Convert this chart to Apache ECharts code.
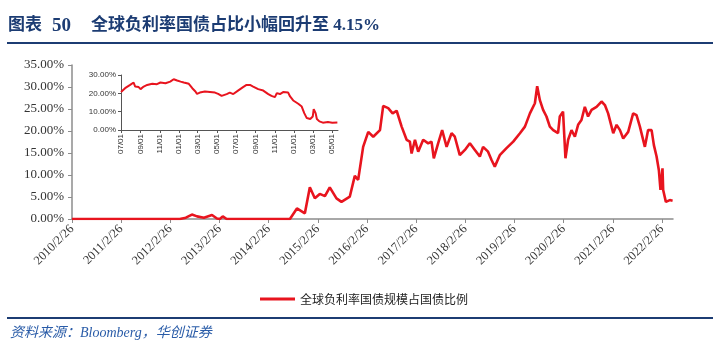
<!DOCTYPE html>
<html><head><meta charset="utf-8">
<script src="https://cdn.jsdelivr.net/npm/echarts@6/dist/echarts.min.js"></script>
<style>html,body{margin:0;padding:0;background:#fff}#c{width:720px;height:357px}</style>
</head><body><div id="c"></div>
<script>
// ---- data ----
var titleText = '全球负利率国债占比小幅回升至 4.15%';
var figLabel = '图表';
var figNo = '50';
var sourceText = '资料来源：Bloomberg，华创证券';
var seriesName = '全球负利率国债规模占国债比例';

var mainTickDates = ['2010-02-26','2011-02-26','2012-02-26','2013-02-26','2014-02-26','2015-02-26','2016-02-26','2017-02-26','2018-02-26','2019-02-26','2020-02-26','2021-02-26','2022-02-26'];
var insetTickDates = ['2020-07-01','2020-09-01','2020-11-01','2021-01-01','2021-03-01','2021-05-01','2021-07-01','2021-09-01','2021-11-01','2022-01-01','2022-03-01','2022-05-01'];

var mainDates = ['2010-02-26','2012-05-07','2012-06-21','2012-08-05','2012-09-12','2012-11-02','2013-01-01','2013-02-07','2013-02-28','2013-03-22','2013-04-20','2014-08-03','2014-09-24','2014-11-22','2014-12-29','2015-02-04','2015-03-13','2015-04-20','2015-05-26','2015-07-15','2015-08-21','2015-10-22','2015-11-28','2015-12-23','2016-01-29','2016-03-07','2016-04-13','2016-06-02','2016-06-26','2016-08-02','2016-09-04','2016-10-04','2016-11-10','2016-12-17','2017-01-10','2017-01-23','2017-02-17','2017-03-13','2017-04-19','2017-05-26','2017-06-20','2017-07-07','2017-08-08','2017-09-07','2017-10-10','2017-11-16','2017-12-10','2018-01-16','2018-02-23','2018-04-01','2018-05-08','2018-06-14','2018-07-08','2018-08-14','2018-09-09','2018-10-03','2018-11-09','2018-12-29','2019-02-17','2019-04-08','2019-05-15','2019-06-21','2019-07-28','2019-08-14','2019-09-03','2019-09-27','2019-10-22','2019-11-16','2019-12-11','2020-01-16','2020-01-29','2020-02-22','2020-03-11','2020-03-31','2020-04-25','2020-05-20','2020-06-13','2020-07-08','2020-08-02','2020-08-26','2020-09-21','2020-10-28','2020-12-04','2020-12-29','2021-01-22','2021-03-01','2021-03-26','2021-04-20','2021-05-14','2021-06-20','2021-07-27','2021-08-21','2021-09-15','2021-10-22','2021-11-15','2021-12-11','2021-12-28','2022-01-17','2022-02-03','2022-02-15','2022-03-02','2022-03-07','2022-03-27','2022-04-25','2022-05-16'];
var mainValues = [0,0,0.3,1.0,0.6,0.3,0.9,0.1,0,0.6,0,0,2.4,1.3,7.2,4.7,5.7,5.2,7.2,4.7,3.9,5.1,9.8,8.9,16.4,19.8,18.7,20.2,25.7,25.2,24.0,24.6,21.0,18.0,17.6,14.9,18.0,15.3,18.0,17.2,17.6,13.8,17.2,20.2,16.4,19.5,18.7,14.5,15.7,17.2,15.7,14.2,16.4,15.3,13.4,11.9,14.5,16.1,17.6,19.5,21.0,24.0,26.3,30.2,27.0,24.8,23.3,21.0,20.2,19.5,23.3,24.4,13.8,18.0,20.2,18.7,21.4,22.5,25.5,23.3,24.8,25.5,26.7,25.9,24.0,19.5,21.4,20.2,18.3,19.8,24.0,23.6,21.0,16.4,20.2,20.2,16.8,14.2,11.1,6.6,11.5,6.6,3.9,4.3,4.15];

var insetDates = ['2020-07-01','2020-07-14','2020-07-30','2020-08-10','2020-08-15','2020-08-26','2020-09-01','2020-09-11','2020-09-22','2020-10-08','2020-10-23','2020-11-03','2020-11-19','2020-12-04','2020-12-15','2020-12-26','2021-01-06','2021-01-16','2021-02-01','2021-02-12','2021-02-22','2021-02-27','2021-03-08','2021-03-24','2021-04-09','2021-04-25','2021-05-05','2021-05-16','2021-06-01','2021-06-11','2021-06-22','2021-07-07','2021-07-23','2021-08-03','2021-08-14','2021-08-24','2021-09-09','2021-09-25','2021-10-11','2021-10-21','2021-11-01','2021-11-07','2021-11-17','2021-11-27','2021-12-13','2021-12-19','2021-12-29','2022-01-14','2022-01-25','2022-02-02','2022-02-10','2022-02-21','2022-03-01','2022-03-04','2022-03-10','2022-03-14','2022-03-22','2022-04-02','2022-04-18','2022-05-02','2022-05-18'];
var insetValues = [20.7,22.8,24.6,25.9,23.7,23.4,22.3,23.7,24.6,25.2,25.0,25.9,25.5,26.4,27.7,27.0,26.4,25.9,25.2,22.8,21.0,19.7,20.4,21.0,20.7,20.4,19.7,18.6,19.6,20.4,19.6,21.5,23.4,24.6,24.6,23.7,22.3,21.5,19.6,18.6,17.9,20.1,19.6,20.7,20.4,18.3,16.1,14.3,12.8,9.2,6.5,6.0,7.4,11.4,9.2,6.0,4.7,4.0,4.3,4.0,4.15];

// ---- helpers ----
function ts(s){var p=s.split('-');return Date.UTC(+p[0],+p[1]-1,+p[2]);}
function pair(ds,vs){return ds.map(function(d,i){return [ts(d),vs[i]];});}
function pad(n){return (n<10?'0':'')+n;}

var navy = '#1C3C73';
var red = '#E8141E';
var axisGray = '#8C8C8C';
var titleFont = 'bold 17px "Liberation Serif","Noto Sans CJK SC"';

var chart = echarts.init(document.getElementById('c'), null, {renderer:'canvas'});
var mainTicks = mainTickDates.map(ts);
var insetTicks = insetTickDates.map(ts);

chart.setOption({
  animation:false,
  backgroundColor:'#fff',
  graphic:[
    {type:'text', x:8, y:26, style:{text:figLabel, verticalAlign:'middle', font:titleFont, fill:navy}},
    {type:'text', x:52, y:26, style:{text:figNo, verticalAlign:'middle', font:'bold 19px "Liberation Serif","Noto Sans CJK SC"', fill:navy}},
    {type:'text', x:91, y:26, style:{text:titleText, verticalAlign:'middle', font:titleFont, fill:navy}},
    {type:'rect', shape:{x:7,y:42,width:706,height:2}, style:{fill:navy}},
    {type:'rect', shape:{x:7,y:317,width:706,height:2}, style:{fill:navy}},
    {type:'text', x:10, y:333, style:{text:sourceText, verticalAlign:'middle', font:'italic 14px "Liberation Serif","Noto Sans CJK SC"', fill:'#2A5CA8'}}
  ],
  legend:{
    show:true, left:255, top:288, icon:'rect', itemWidth:35, itemHeight:3, itemGap:4,
    textStyle:{fontFamily:'Noto Sans CJK SC', fontSize:12, color:'#222'},
    data:[seriesName]
  },
  grid:[
    {left:72, right:47, top:65, bottom:138, containLabel:false},
    {left:121, right:382, top:75, bottom:227, containLabel:false}
  ],
  xAxis:[
    {type:'value', gridIndex:0, min:ts('2010-02-26'), max:ts('2022-05-19'),
     axisLine:{lineStyle:{color:axisGray, width:1.5}},
     axisTick:{show:true, length:4, customValues:mainTicks, lineStyle:{color:axisGray}},
     splitLine:{show:false},
     axisLabel:{customValues:mainTicks, rotate:45, margin:8, color:'#333', fontFamily:'Liberation Serif', fontSize:12.5,
       formatter:function(v){var d=new Date(v);return d.getUTCFullYear()+'/'+(d.getUTCMonth()+1)+'/'+d.getUTCDate();}}},
    {type:'value', gridIndex:1, min:ts('2020-07-01'), max:ts('2022-05-20'),
     axisLine:{lineStyle:{color:'#555', width:1}},
     axisTick:{show:true, length:3, customValues:insetTicks, lineStyle:{color:'#555'}},
     splitLine:{show:false},
     axisLabel:{customValues:insetTicks, rotate:90, margin:4, color:'#333', fontFamily:'Liberation Sans', fontSize:8,
       formatter:function(v){var d=new Date(v);return pad(d.getUTCMonth()+1)+'/'+pad(d.getUTCDate());}}}
  ],
  yAxis:[
    {type:'value', gridIndex:0, min:0, max:35, interval:5,
     axisLine:{show:true, lineStyle:{color:axisGray, width:1.5}},
     axisTick:{show:true, length:4, lineStyle:{color:axisGray}},
     splitLine:{show:false},
     axisLabel:{margin:8, color:'#333', fontFamily:'Liberation Serif', fontSize:13,
       formatter:function(v){return v.toFixed(2)+'%';}}},
    {type:'value', gridIndex:1, min:0, max:30, interval:10,
     axisLine:{show:true, lineStyle:{color:'#555', width:1}},
     axisTick:{show:true, length:3, lineStyle:{color:'#555'}},
     splitLine:{show:false},
     axisLabel:{margin:5, color:'#333', fontFamily:'Liberation Sans', fontSize:8,
       formatter:function(v){return v.toFixed(2)+'%';}}}
  ],
  series:[
    {name:seriesName, type:'line', xAxisIndex:0, yAxisIndex:0, data:pair(mainDates, mainValues),
     showSymbol:false, lineStyle:{color:red, width:2.6}, itemStyle:{color:red}},
    {name:'inset', type:'line', xAxisIndex:1, yAxisIndex:1, data:pair(insetDates, insetValues),
     showSymbol:false, lineStyle:{color:red, width:2}, itemStyle:{color:red}}
  ]
});
</script></body></html>
